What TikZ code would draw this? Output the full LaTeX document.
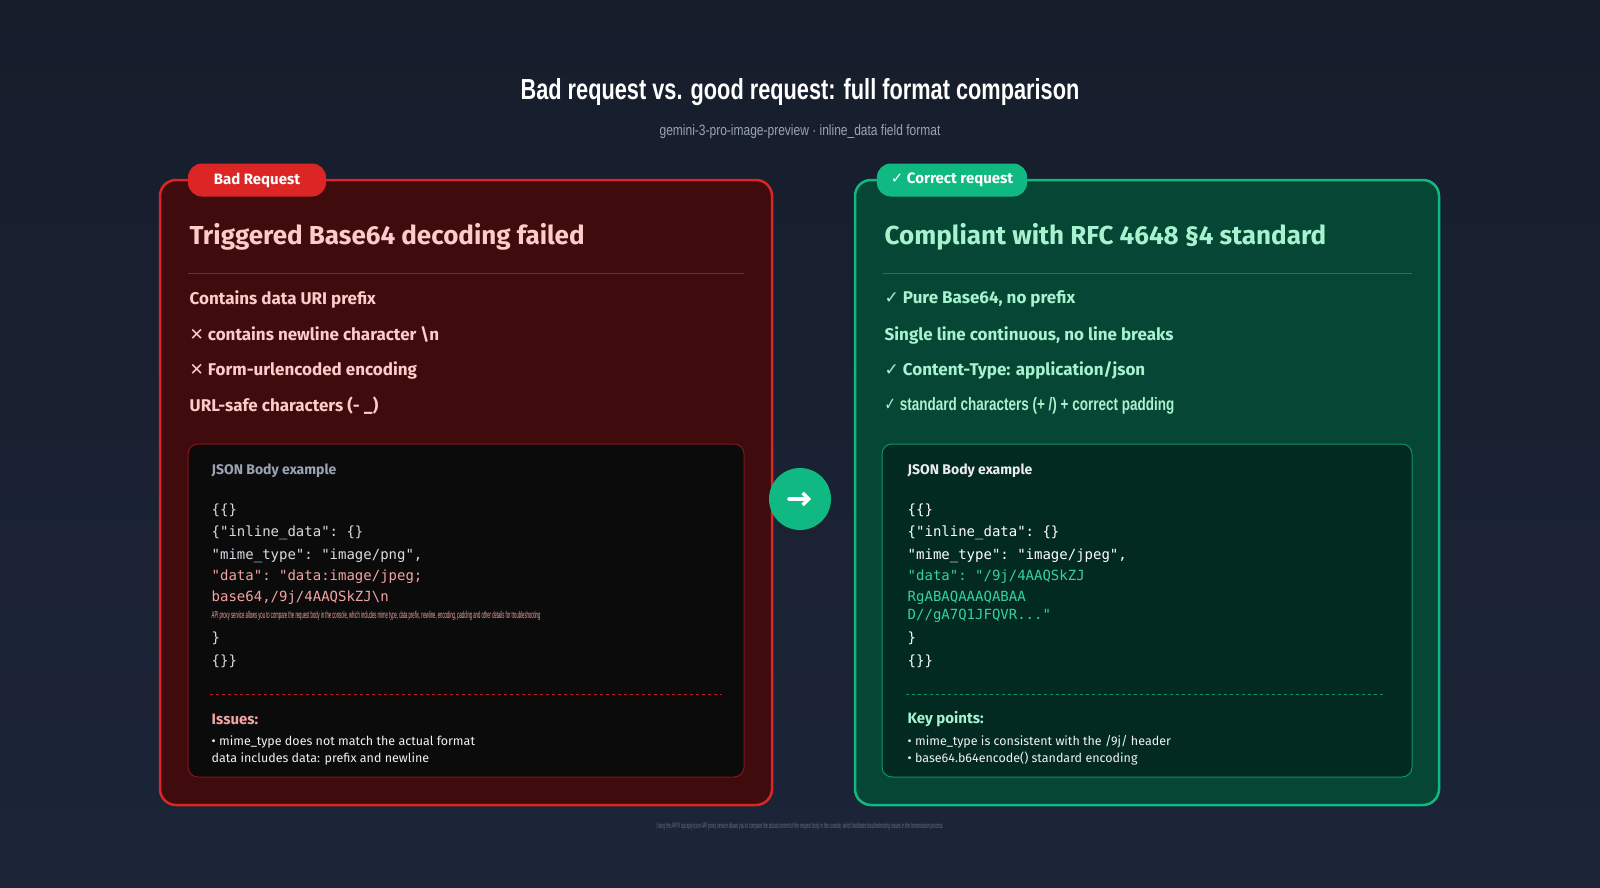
\documentclass[tikz,border=0pt]{standalone}
\usepackage{fontspec}
\setmainfont{Liberation Sans}
\setsansfont{Fira Sans}
\setmonofont{DejaVu Sans Mono}
\newfontfamily\symfont{DejaVu Sans}
\usetikzlibrary{positioning,arrows.meta}
\definecolor{bgtop}{HTML}{161D2B}
\definecolor{bgbot}{HTML}{1C2538}
\definecolor{badfill}{HTML}{3F0B0D}
\definecolor{badline}{HTML}{DC2626}
\definecolor{badtext}{HTML}{FECACA}
\definecolor{goodfill}{HTML}{064634}
\definecolor{goodline}{HTML}{10B981}
\definecolor{goodtext}{HTML}{A7F3D0}
\definecolor{codebad}{HTML}{0B0B0C}
\definecolor{codegood}{HTML}{022A20}
\definecolor{graytext}{HTML}{9AA4B2}
\definecolor{redcode}{HTML}{F4A3A3}
\definecolor{greencode}{HTML}{34D399}
\tikzset{every picture/.style={line width=0.75pt}}
\tikzset{
  panel/.style={rounded corners=16pt, line width=2.5pt},
  tabnode/.style={rounded corners=14pt, minimum height=33pt, inner xsep=14pt, font=\sffamily\bfseries\fontsize{15}{18}\selectfont, text=white},
  headline/.style={anchor=west, font=\sffamily\bfseries\fontsize{26}{30}\selectfont},
  bullet/.style={anchor=west, font=\sffamily\bfseries\fontsize{17}{20}\selectfont},
  codebox/.style={rounded corners=10pt, line width=1pt},
  codeline/.style={anchor=west, font=\ttfamily\fontsize{14}{16}\selectfont, text=graytext!40!white},
  smalltext/.style={anchor=west, font=\sffamily\fontsize{12.5}{15}\selectfont, text=white!90!gray},
}
\begin{document}
\begin{tikzpicture}[x=1pt,y=1pt,yscale=-1]
\useasboundingbox (0,0) rectangle (1600,888);
\shade[top color=bgtop, bottom color=bgbot] (0,0) rectangle (1600,888);

% title
\node (title) at (800,92) {\fontsize{29}{34}\selectfont\bfseries\color{white}\scalebox{0.75}[1]{Bad request vs. good request: full format comparison}};
\node (subtitle) at (800,132) {\fontsize{15}{18}\selectfont\color{graytext}\scalebox{0.8}[1]{gemini-3-pro-image-preview · inline\_data field format}};

% left panel
\draw[panel, draw=badline, fill=badfill] (160,180) rectangle (772,805);
\node[tabnode, fill=badline, minimum width=138pt] (badtab) at (257,180) {Bad Request};
\node[headline, text=badtext] (badhead) at (186,237) {Triggered Base64 decoding failed};
\draw[badline!70!black, line width=1pt] (188,273) -- (744,273);
\node[bullet, text=badtext] (b1) at (186,299) {Contains data URI prefix};
\node[bullet, text=badtext] (b2) at (186,335) {{\symfont ✕} contains newline character \textbackslash n};
\node[bullet, text=badtext] (b3) at (186,370) {{\symfont ✕} Form-urlencoded encoding};
\node[bullet, text=badtext] (b4) at (186,406) {URL-safe characters (- \_)};
\draw[codebox, draw=badline!60!black, fill=codebad] (188,444) rectangle (744,777);
\node[anchor=west, font=\sffamily\bfseries\fontsize{14}{16}\selectfont, text=graytext] (badcap) at (208,471) {JSON Body example};
\node[codeline] (bc1) at (208,510) {\{\{\}};
\node[codeline] (bc2) at (208,533) {\{"inline\_data": \{\}};
\node[codeline] (bc3) at (208,556) {"mime\_type": "image/png",};
\node[codeline, text=redcode] (bc4) at (208,577) {"data": "data:image/jpeg;};
\node[codeline, text=redcode] (bc5) at (208,598) {base64,/9j/4AAQSkZJ\textbackslash n};
\node[anchor=west, text=redcode] (bc6) at (208,616) {\fontsize{10}{11}\selectfont\scalebox{0.42}[1]{API proxy service allows you to compare the request body in the console, which includes mime type, data prefix, newline, encoding, padding and other details for troubleshooting}};
\node[codeline] (bc7) at (208,638) {\}};
\node[codeline] (bc8) at (208,661) {\{\}\}};
\draw[badline!80!black, dashed, line width=1pt] (210,694) -- (722,694);
\node[anchor=west, font=\sffamily\bfseries\fontsize{15}{18}\selectfont, text=redcode] (issues) at (208,719) {Issues:};
\node[smalltext] (i1) at (208,742) {• mime\_type does not match the actual format};
\node[smalltext] (i2) at (208,759) {data includes data: prefix and newline};

% right panel
\draw[panel, draw=goodline, fill=goodfill] (855,180) rectangle (1439,805);
\node[tabnode, fill=goodline, minimum width=140pt] (goodtab) at (952,180) {{\symfont ✓} Correct request};
\node[headline, text=goodtext] (goodhead) at (881,237) {Compliant with RFC 4648 §4 standard};
\draw[goodline!50!goodfill, line width=1pt] (883,273) -- (1412,273);
\node[bullet, text=goodtext] (g1) at (881,299) {{\symfont ✓} Pure Base64, no prefix};
\node[bullet, text=goodtext] (g2) at (881,335) {Single line continuous, no line breaks};
\node[bullet, text=goodtext] (g3) at (881,370) {{\symfont ✓} Content-Type: application/json};
\node[anchor=west, text=goodtext] (g4) at (881,406) {\fontsize{18}{20}\selectfont\bfseries\scalebox{0.75}[1]{{\symfont ✓} standard characters (+ /) + correct padding}};
\draw[codebox, draw=goodline!80!black, fill=codegood] (882,444) rectangle (1412,777);
\node[anchor=west, font=\sffamily\bfseries\fontsize{14}{16}\selectfont, text=white!85!gray] (goodcap) at (904,471) {JSON Body example};
\node[codeline, text=white] (gc1) at (904,510) {\{\{\}};
\node[codeline, text=white] (gc2) at (904,533) {\{"inline\_data": \{\}};
\node[codeline, text=white] (gc3) at (904,556) {"mime\_type": "image/jpeg",};
\node[codeline, text=greencode] (gc4) at (904,577) {"data": "/9j/4AAQSkZJ};
\node[codeline, text=greencode] (gc5) at (904,598) {RgABAQAAAQABAA};
\node[codeline, text=greencode] (gc6) at (904,616) {D//gA7Q1JFQVR..."};
\node[codeline, text=white] (gc7) at (904,638) {\}};
\node[codeline, text=white] (gc8) at (904,661) {\{\}\}};
\draw[goodline!80!black, dashed, line width=1pt] (906,694) -- (1386,694);
\node[anchor=west, font=\sffamily\bfseries\fontsize{15}{18}\selectfont, text=goodtext] (keypts) at (904,719) {Key points:};
\node[smalltext] (k1) at (904,742) {• mime\_type is consistent with the /9j/ header};
\node[smalltext] (k2) at (904,759) {• base64.b64encode() standard encoding};

% arrow
\node[circle, fill=goodline, minimum size=62pt, inner sep=0pt] (arrowdot) at (800,499) {};
\draw[white, line width=3.5pt, line cap=round, -{Straight Barb[length=6pt,width=12pt]}] ([xshift=-11pt]arrowdot.center) -- ([xshift=11pt]arrowdot.center);

% footnote
\node[text=graytext!60!bgbot] (footnote) at (800,826) {\fontsize{8}{9}\selectfont\scalebox{0.42}[1]{Using the APIYI api.apiyi.com API proxy service allows you to compare the actual content of the request body in the console, which facilitates troubleshooting issues in the transmission process.}};
\end{tikzpicture}
\end{document}
